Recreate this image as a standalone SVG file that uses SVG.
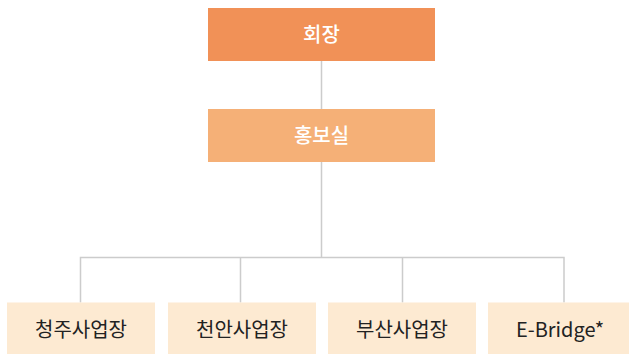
<svg xmlns="http://www.w3.org/2000/svg" width="629" height="354" viewBox="0 0 629 354">
<style>
.t{font-family:"Noto Sans CJK KR","Noto Sans",sans-serif;font-size:20px;text-anchor:middle}
.w{fill:#fff;font-weight:500}
.d{fill:#222}
.c{stroke:#cccccc;stroke-width:1.5;fill:none}
</style>
<rect width="629" height="354" fill="#fff"/>
<g id="connectors">
<path class="c" d="M321.5 61V109M321.5 162V257.5M80.5 302.5V257.5H564V302.5M240.5 257.5V302.5M402.5 257.5V302.5"/>
</g>
<g id="n1"><rect x="208" y="8" width="227" height="53" fill="#F19157"/><text class="t w" x="321.5" y="41.5">회장</text></g>
<g id="n2"><rect x="208" y="109" width="227" height="53" fill="#F5B077"/><text class="t w" x="321.5" y="142.5">홍보실</text></g>
<g id="n3"><rect x="7" y="302.5" width="148" height="52" fill="#FDEAD2"/><text class="t d" x="81" y="336.5">청주사업장</text></g>
<g id="n4"><rect x="168" y="302.5" width="148" height="52" fill="#FDEAD2"/><text class="t d" x="242" y="336.5">천안사업장</text></g>
<g id="n5"><rect x="328" y="302.5" width="148" height="52" fill="#FDEAD2"/><text class="t d" x="402" y="336.5">부산사업장</text></g>
<g id="n6"><rect x="488" y="302.5" width="141" height="52" fill="#FDEAD2"/><text class="t d" x="560" y="336.5">E-Bridge*</text></g>
</svg>
